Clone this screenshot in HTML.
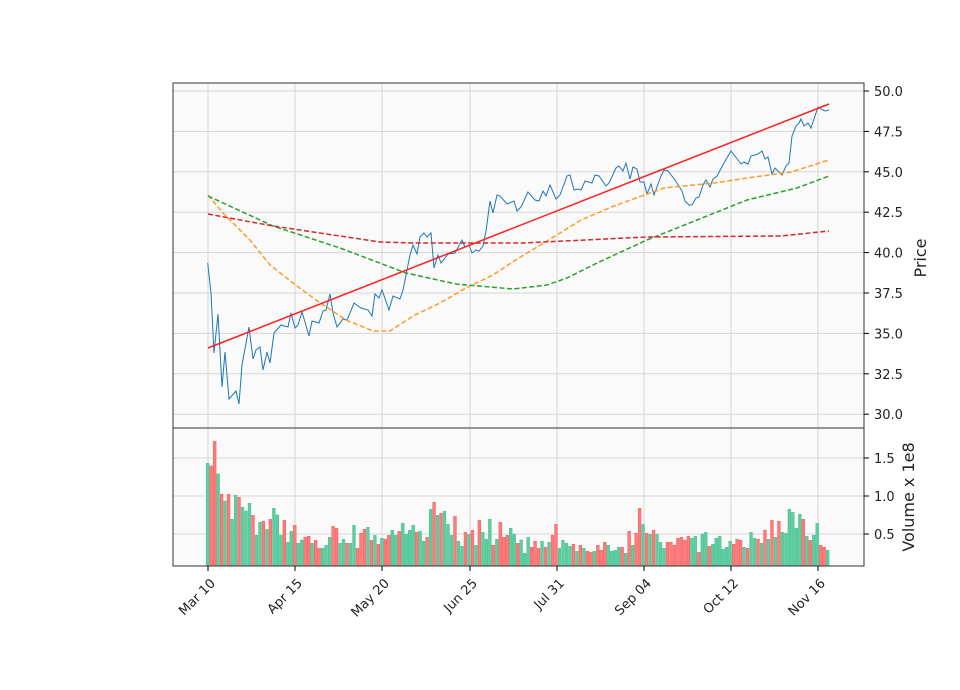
<!DOCTYPE html>
<html><head><meta charset="utf-8"><style>
html,body{margin:0;padding:0;background:#fff;}
svg{display:block;font-family:"DejaVu Sans","Liberation Sans",sans-serif;}
</style></head><body>
<svg id="s" width="960" height="690" viewBox="0 0 960 690" xmlns="http://www.w3.org/2000/svg">
<rect x="0" y="0" width="960" height="690" fill="#fff"/>
<rect x="173" y="83" width="691" height="483" fill="#fafafa"/>
<g id="grid" stroke="#d6d6d6" stroke-width="1"></g>
<g id="bars"></g>
<polyline fill="none" stroke="#1f77b4" stroke-width="1" points="207.7,263 211,293 214,353 218,314 222,387 225,352 229,399 236,391 239,404 242,365 249,327 253,359 256,350 260,347 263,370 267,352 270,363 274,333 281,325 288,327 291,313 295,328 298,325 302,312 305,322 309,336 312,321 319,323 323,311 326,310 330,294 333,313 337,327 343,319 347,320 350,313 354,303 361,308 368,310 372,316 375,294 379,298 382,290 389,310 393,296 400,299 403,290 410,255 413,245 417,254 420,237 424,233 427,237 431,233 434,268 438,255 441,263 448,254 455,253 462,240 465,247 469,245 472,253 476,250 479,251 483,246 486,231 490,201 493,213 497,195 500,196 507,204 514,201 517,211 521,207 528,192 535,200 539,201 543,191 546,196 550,185 556,199 560,195 567,176 570,175 574,190 578,189 581,190 585,181 592,183 595,175 599,176 606,186 609,183 616,168 619,166 623,171 626,163 630,179 633,167 637,169 640,182 644,182 647,194 651,184 654,195 661,176 664,170 668,171 675,180 682,191 685,201 689,205 692,205 696,198 699,197 703,185 706,180 710,187 713,179 717,176 724,163 731,151 738,160 741,164 744,162 748,164 751,156 758,154 762,151 765,159 768,157 772,174 775,168 779,172 782,175 786,166 789,163 792,136 796,126 799,123 801,119 804,126 808,123 811,128 818,107 821,109 825,111 829,110"/>
<polyline fill="none" stroke="#ff9a2a" stroke-width="1.5" stroke-dasharray="5,2.5" points="208,195 223,213 250,240 270,265 293,283 316,300 346,320 373,331 390,331 413,316 440,303 466,288 493,275 514,261 547,241 581,220 614,206 664,188 714,183 747,178 791,172 829,160"/>
<polyline fill="none" stroke="#2ca02c" stroke-width="1.5" stroke-dasharray="5,2.5" points="208,196 273,226 340,248 406,273 456,284 513,289 547,285 567,278 597,263 647,240 697,220 747,200 797,188 829,176"/>
<polyline fill="none" stroke="#d62728" stroke-width="1.5" stroke-dasharray="5,2.5" points="208,214 273,226 380,242 413,243 523,243 647,237 781,236 829,231"/>
<line x1="208" y1="348" x2="829" y2="104" stroke="#ff2020" stroke-width="1.5"/>
<rect x="173" y="83" width="691" height="483" fill="none" stroke="#333" stroke-width="1"/>
<line x1="173" y1="428" x2="864" y2="428" stroke="#333" stroke-width="1"/>
<g id="ticks" stroke="#000" stroke-width="1"></g>
<g id="labels" font-size="13" fill="#222"></g>
<text transform="translate(926,258) rotate(-90)" text-anchor="middle" font-size="16" fill="#222">Price</text>
<text transform="translate(914,497) rotate(-90)" text-anchor="middle" font-size="16" fill="#222">Volume x 1e8</text>
</svg>
<script>
var NS="http://www.w3.org/2000/svg";
function el(p,t,a,txt){var e=document.createElementNS(NS,t);for(var k in a)e.setAttribute(k,a[k]);if(txt)e.textContent=txt;document.getElementById(p).appendChild(e);}
var xt=[208,295,382,470,557,644,731,818],xl=["Mar 10","Apr 15","May 20","Jun 25","Jul 31","Sep 04","Oct 12","Nov 16"];
var py=[91,131.4,171.8,212.2,252.6,293,333.4,373.8,414.2],pl=["50.0","47.5","45.0","42.5","40.0","37.5","35.0","32.5","30.0"];
var vy=[458,496,534],vl=["1.5","1.0","0.5"];
xt.forEach(function(x,i){el("grid","line",{x1:x,y1:83,x2:x,y2:566});el("ticks","line",{x1:x,y1:566,x2:x,y2:571});
el("labels","text",{"text-anchor":"end",transform:"translate("+(x+8)+",584) rotate(-45)"},xl[i]);});
py.forEach(function(y,i){el("grid","line",{x1:173,y1:y,x2:864,y2:y});el("ticks","line",{x1:864,y1:y,x2:869,y2:y});
el("labels","text",{x:874,y:y+5},pl[i]);});
vy.forEach(function(y,i){el("grid","line",{x1:173,y1:y,x2:864,y2:y});el("ticks","line",{x1:864,y1:y,x2:869,y2:y});
el("labels","text",{x:874,y:y+5},vl[i]);});
var d="G100 R108 R34 G132 R193 G213 R193 G268 G196 R202 G232 G243 G220 R256 G316 G277 R274 G298 R268 G235 G255 G316 R271 G337 G304 R286 G340 G330 R322 R319 G340 R331 R355 G355 G346 G322 R289 R295 G340 G328 R340 G340 G286 R355 R310 R298 G292 R331 G316 R343 G325 R328 R316 G301 G316 R304 G280 G313 G301 G286 R307 G304 G334 R322 G238 R217 G256 R250 G244 G283 G316 R259 G334 G349 R307 G313 R301 G346 R271 G307 G328 G268 R346 G328 R277 R322 R316 G295 G313 R340 G330 G370 G322 R352 R334 R355 G334 R352 G337 R316 R283 G355 G331 G340 G349 R343 G364 R346 G355 R364 R367 G364 R346 R361 R337 G346 G364 G361 G352 R352 G370 R304 G346 R310 R235 G283 R310 G313 R301 G313 G337 G355 R337 R337 R346 R325 R322 R331 R319 G325 G319 R367 G313 G307 R349 G343 G325 G319 G358 G352 G334 R343 R328 R331 G352 R355 G307 G325 R328 G340 R301 G328 R271 G322 R274 G307 G310 G238 G247 G295 G253 R268 G319 R331 G316 G280 R346 R352 G361".split(" ");
d.forEach(function(s,i){var c=s[0],v=+s.slice(1),top=430+v/3,x=207.7+i*3.483-1.4;
el("bars","rect",{x:x.toFixed(2),y:top.toFixed(1),width:2.8,height:(566-top).toFixed(1),fill:c=="G"?"#5ccea0":"#ff7a7a",stroke:c=="G"?"#48c090":"#f25c5c","stroke-width":0.5});});
</script>
</body></html>
